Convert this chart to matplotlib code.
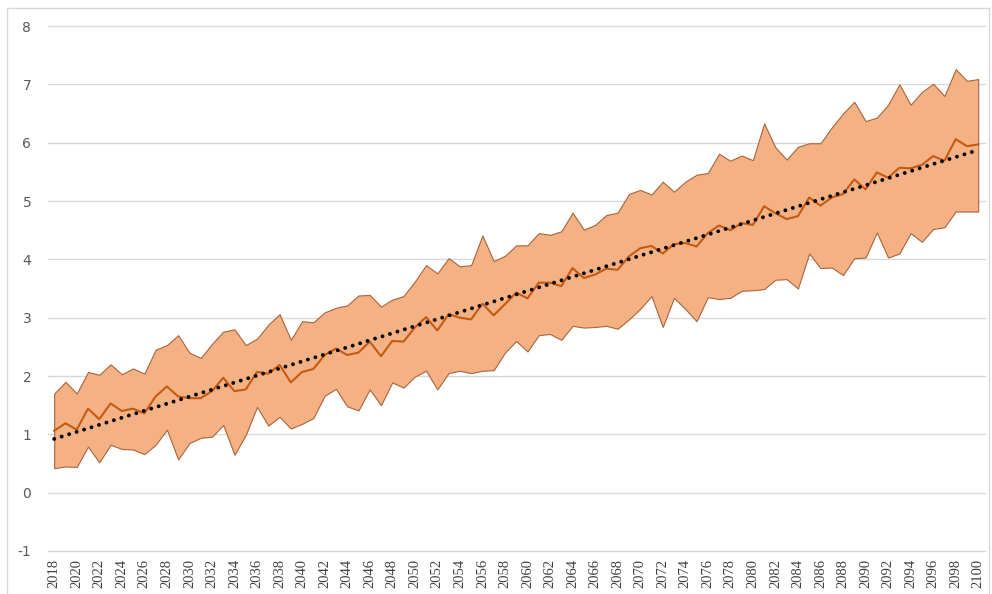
import numpy as np
import matplotlib
matplotlib.use('Agg')
import matplotlib.pyplot as plt
from matplotlib.patches import Rectangle

years = list(range(2018, 2101))

upper = [1.70, 1.90, 1.70, 2.07, 2.02, 2.20, 2.03, 2.13, 2.04, 2.45,
         2.53, 2.70, 2.40, 2.31, 2.55, 2.76, 2.80, 2.53, 2.64, 2.88,
         3.06, 2.62, 2.94, 2.92, 3.09, 3.17, 3.21, 3.38, 3.39, 3.19,
         3.31, 3.37, 3.62, 3.90, 3.76, 4.02, 3.88, 3.90, 4.41, 3.97,
         4.06, 4.24, 4.24, 4.45, 4.42, 4.48, 4.80, 4.51, 4.59, 4.76,
         4.80, 5.12, 5.19, 5.11, 5.33, 5.16, 5.33, 5.45, 5.48, 5.81,
         5.69, 5.78, 5.70, 6.33, 5.92, 5.71, 5.93, 5.99, 5.99, 6.26,
         6.50, 6.70, 6.37, 6.43, 6.65, 7.00, 6.65, 6.87, 7.01, 6.80,
         7.26, 7.06, 7.09]

lower = [0.42, 0.45, 0.44, 0.79, 0.52, 0.82, 0.75, 0.74, 0.66, 0.82,
         1.08, 0.57, 0.85, 0.94, 0.96, 1.16, 0.65, 0.99, 1.47, 1.15,
         1.30, 1.10, 1.18, 1.28, 1.66, 1.78, 1.48, 1.41, 1.77, 1.50,
         1.89, 1.80, 1.99, 2.09, 1.77, 2.05, 2.09, 2.05, 2.09, 2.10,
         2.40, 2.60, 2.42, 2.70, 2.72, 2.62, 2.86, 2.83, 2.84, 2.86,
         2.81, 2.97, 3.15, 3.37, 2.84, 3.34, 3.15, 2.94, 3.35, 3.32,
         3.34, 3.46, 3.47, 3.49, 3.65, 3.66, 3.50, 4.10, 3.85, 3.86,
         3.73, 4.02, 4.03, 4.46, 4.03, 4.10, 4.45, 4.30, 4.52, 4.55,
         4.82, 4.82, 4.82]

middle = [1.06, 1.19, 1.08, 1.44, 1.26, 1.53, 1.40, 1.44, 1.36, 1.65,
          1.82, 1.65, 1.62, 1.62, 1.74, 1.97, 1.74, 1.77, 2.07, 2.04,
          2.19, 1.89, 2.07, 2.12, 2.36, 2.47, 2.36, 2.40, 2.59, 2.34,
          2.60, 2.59, 2.83, 3.01, 2.78, 3.06, 3.00, 2.97, 3.24, 3.04,
          3.23, 3.43, 3.33, 3.60, 3.60, 3.54, 3.85, 3.68, 3.74, 3.84,
          3.82, 4.05, 4.19, 4.23, 4.10, 4.26, 4.28, 4.22, 4.45, 4.58,
          4.50, 4.62, 4.59, 4.91, 4.79, 4.69, 4.74, 5.06, 4.92, 5.06,
          5.12, 5.37, 5.20, 5.49, 5.40, 5.57, 5.56, 5.62, 5.77, 5.69,
          6.06, 5.94, 5.97]

y_ticks = list(range(-1, 9))
x_ticks = list(range(2018, 2101, 2))

fig = plt.figure(figsize=(9.92, 5.94), dpi=100)
ax = fig.add_axes([48/992, 1 - 551/594, (985 - 48)/992, (551 - 26)/594])

# chart border like the spreadsheet frame
fig.patches.append(Rectangle((7/992, -0.01), (989 - 7)/992, 1 - 8/594 + 0.01,
                             transform=fig.transFigure, fill=False,
                             edgecolor='#D9D9D9', linewidth=1))

ax.fill_between(years, lower, upper, facecolor='#F4B183', edgecolor='#A8643C',
                linewidth=0.8, zorder=2)
ax.plot(years, middle, color='#C55A11', linewidth=1.5, zorder=3)

# linear trend of the middle series
coef = np.polyfit(years, middle, 1)
trend = np.polyval(coef, years)
ax.plot(years, trend, color='black', linewidth=2.8, linestyle=(0, (0.01, 2.0)),
        dash_capstyle='round', zorder=4)

ax.set_ylim(-1, 8)
ax.set_xlim(2017.45, 2100.6)
ax.set_yticks(y_ticks)
ax.set_xticks(x_ticks)
ax.set_xticklabels([str(x) for x in x_ticks], rotation=90,
                   fontfamily='Liberation Serif', fontsize=10.5, color='#404040')
ax.set_yticklabels([str(y) for y in y_ticks], fontsize=10, color='#595959')
ax.tick_params(axis='both', length=0)
ax.tick_params(axis='y', pad=12)
ax.tick_params(axis='x', pad=6)
ax.grid(axis='y', color='#D9D9D9', linewidth=1, zorder=0)
for gl in ax.get_ygridlines():
    gl.set_clip_on(False)   # keep the -1 and 8 lines whole
ax.set_axisbelow(True)
for s in ax.spines.values():
    s.set_visible(False)

fig.savefig('out.png', dpi=100)
